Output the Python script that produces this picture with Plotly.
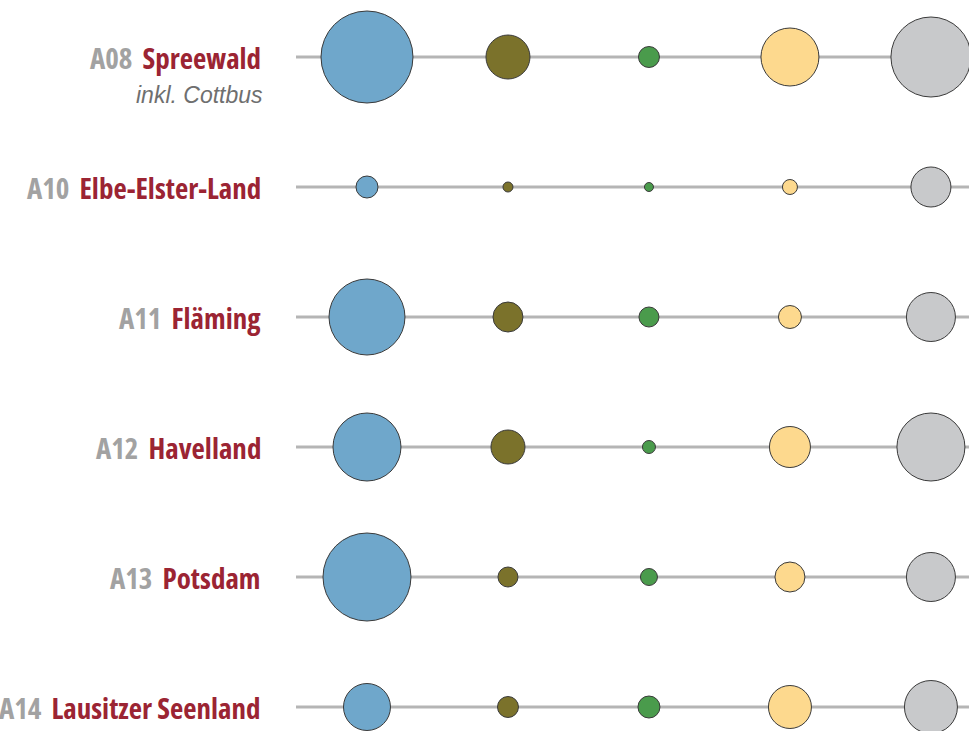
import plotly.graph_objects as go

codes = ["A08", "A10", "A11", "A12", "A13", "A14"]
names = ["Spreewald", "Elbe-Elster-Land", "Fläming", "Havelland", "Potsdam", "Lausitzer Seenland"]
subtitles = ["inkl. Cottbus", "", "", "", "", ""]
series_colors = ["#6fa7cb", "#7b722b", "#4a9b4c", "#fdd98e", "#c8c9cb"]
# bubble sizes (diameter, px) per series, per region
blue = [92, 22, 76, 68, 88, 47]
olive = [44, 10, 30, 34, 20, 21]
green = [21, 9, 20, 13, 17, 22]
yellow = [58, 15, 23, 41, 30, 43]
grey = [80, 40, 49, 68, 49, 53]
series = [blue, olive, green, yellow, grey]

fig = go.Figure()
rows = list(range(len(codes)))

for r in rows:
    fig.add_trace(go.Scatter(x=[-0.5035, 4.6], y=[r, r], mode="lines",
                             line=dict(color="#b5b5b5", width=3),
                             hoverinfo="skip", showlegend=False))

for i, vals in enumerate(series):
    fig.add_trace(go.Scatter(
        x=[i] * len(rows), y=rows, mode="markers", cliponaxis=False,
        marker=dict(size=vals, sizemode="diameter", color=series_colors[i],
                    line=dict(color="#3a3a3a", width=1), opacity=1),
        showlegend=False))

for r in rows:
    fig.add_annotation(
        x=-0.738, y=r, xref="x", yref="y", xanchor="right", yanchor="middle",
        showarrow=False,
        text=(f"<span style='color:#a2a2a2;font-stretch:condensed'>{codes[r]}</span>"
              f"<span style='font-stretch:condensed'> \u2009</span>"
              f"<span style='color:#9b2433;font-stretch:condensed'>{names[r]}</span>"),
        font=dict(family="Open Sans", size=29, weight=700))
    if subtitles[r]:
        fig.add_annotation(
            x=-0.724, y=r + 0.295, xref="x", yref="y", xanchor="right", yanchor="middle",
            showarrow=False, text=f"<i>{subtitles[r]}</i>",
            font=dict(family="Liberation Sans, Arial, sans-serif", size=23, color="#6f6f6f"))

fig.update_layout(
    width=969, height=731, margin=dict(l=0, r=0, t=0, b=0),
    paper_bgcolor="white", plot_bgcolor="white",
    xaxis=dict(range=[-2.603, 4.270], visible=False, fixedrange=True),
    yaxis=dict(range=[5.1846, -0.4385], visible=False, fixedrange=True),
)

fig.write_html("out.html", config={"displayModeBar": False},
               post_script="document.body.style.margin='0';document.body.style.overflow='hidden';")
